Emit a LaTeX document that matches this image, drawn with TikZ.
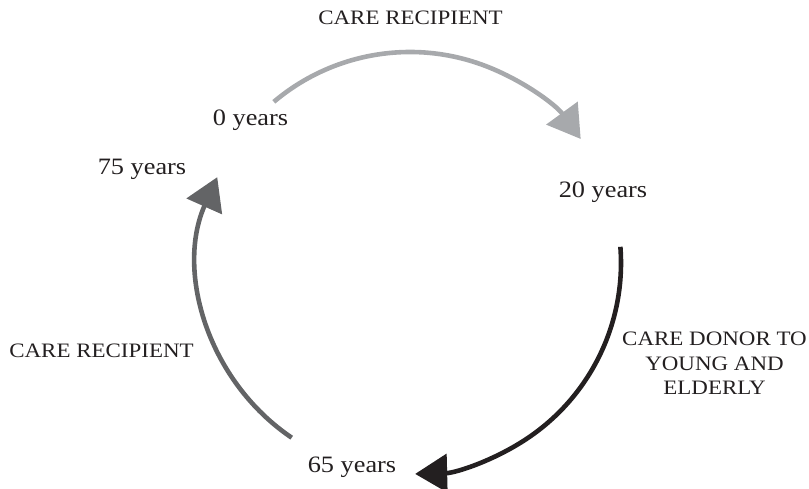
\documentclass[tikz,border=0pt]{standalone}
\usepackage{fontspec}
\setmainfont{Liberation Serif}[FakeStretch=1.12]
\usetikzlibrary{arrows.meta}
\definecolor{lightarc}{HTML}{A7A9AC}
\definecolor{midarc}{HTML}{636466}
\definecolor{darkarc}{HTML}{231F20}
\definecolor{inkc}{HTML}{231F20}
\begin{document}
\begin{tikzpicture}[x=1pt,y=1pt,
  age/.style={inner sep=0pt,anchor=base,text=inkc,font=\fontsize{23.5}{28}\selectfont},
  role/.style={inner sep=0pt,text=inkc,font=\fontsize{20.5}{24.5}\selectfont},
  cyclearc/.style={line width=4.6pt,-{Triangle[length=32pt,width=38pt]}}]
  \useasboundingbox (0,0) rectangle (809,489);
  % centre of the life cycle
  \coordinate (c) at (410,226);
  % ages
  \node[age] (y0)  at (250.5,363) {0 years};
  \node[age] (y20) at (603,291) {20 years};
  \node[age] (y65) at (352,16) {65 years};
  \node[age] (y75) at (142,314) {75 years};
  % roles
  \node[role,anchor=base] (r1) at (410.5,464) {CARE RECIPIENT};
  \node[role,anchor=base] (r3) at (101.5,131) {CARE RECIPIENT};
  \node[role,anchor=north,align=center] (r2) at (714.5,157)
    {CARE DONOR TO\\YOUNG AND\\ELDERLY};
  % arc start points on the circle
  \coordinate (s1) at ([shift={(130.2:211)}]c);
  \coordinate (s2) at ([shift={(4.4:211)}]c);
  \coordinate (s3) at ([shift={(235.9:211)}]c);
  % arcs between the ages
  \draw[cyclearc,lightarc] (s1) arc[start angle=130.2,end angle=36,radius=211];
  \draw[cyclearc,darkarc]  (s2) arc[start angle=4.4,end angle=-88.6,radius=211];
  \draw[cyclearc,midarc]   (s3) arc[start angle=235.9,end angle=156,radius=211];
\end{tikzpicture}
\end{document}
